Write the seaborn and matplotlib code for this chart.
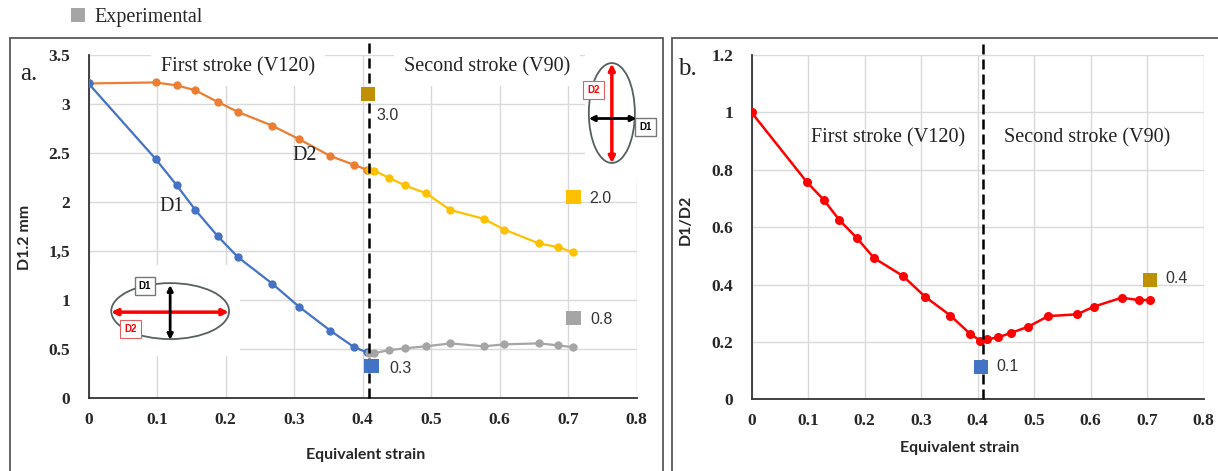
import matplotlib
matplotlib.use("Agg")
import matplotlib.pyplot as plt
from matplotlib.patches import Ellipse, Rectangle
from matplotlib.lines import Line2D
from matplotlib.ticker import MultipleLocator
import seaborn as sns

# ================== DATA ==================

strain_first = [0, 0.098, 0.129, 0.156, 0.189, 0.218, 0.268, 0.308, 0.353, 0.388, 0.406]
d2_first = [3.21, 3.22, 3.19, 3.14, 3.02, 2.92, 2.78, 2.64, 2.47, 2.38, 2.33]
d1_first = [3.21, 2.44, 2.17, 1.92, 1.65, 1.44, 1.17, 0.93, 0.69, 0.52, 0.47]

strain_second = [0.410, 0.417, 0.438, 0.462, 0.493, 0.528, 0.577, 0.607, 0.657, 0.686, 0.707]
d2_second = [2.33, 2.32, 2.25, 2.17, 2.09, 1.92, 1.83, 1.72, 1.58, 1.54, 1.49]
d1_second = [0.46, 0.46, 0.49, 0.51, 0.53, 0.56, 0.53, 0.55, 0.56, 0.54, 0.52]

strain_ratio = [0, 0.098, 0.128, 0.155, 0.187, 0.217, 0.268, 0.307, 0.352, 0.387, 0.405,
                0.416, 0.437, 0.460, 0.490, 0.525, 0.576, 0.606, 0.655, 0.685, 0.705]
ratio = [1.0, 0.757, 0.695, 0.626, 0.561, 0.492, 0.430, 0.358, 0.292, 0.228, 0.204,
         0.209, 0.216, 0.232, 0.253, 0.290, 0.296, 0.323, 0.354, 0.346, 0.346]

exp_a_strain = [0.408, 0.708, 0.708, 0.413]
exp_a_value = [3.10, 2.05, 0.82, 0.33]
exp_a_label = ["3.0", "2.0", "0.8", "0.3"]

exp_b_strain = [0.705, 0.406]
exp_b_value = [0.415, 0.113]
exp_b_label = ["0.4", "0.1"]

stroke_split = 0.41

x_ticks = [0, 0.1, 0.2, 0.3, 0.4, 0.5, 0.6, 0.7, 0.8]
x_ticklabels = ["0", "0.1", "0.2", "0.3", "0.4", "0.5", "0.6", "0.7", "0.8"]
ya_ticks = [0, 0.5, 1, 1.5, 2, 2.5, 3, 3.5]
ya_ticklabels = ["0", "0.5", "1", "1,5", "2", "2.5", "3", "3.5"]
yb_ticks = [0, 0.2, 0.4, 0.6, 0.8, 1.0, 1.2]
yb_ticklabels = ["0", "0.2", "0.4", "0.6", "0.8", "1", "1.2"]

# ================== STYLE ==================

ORANGE = "#ED7D31"
BLUE = "#4472C4"
YELLOW = "#FFC000"
GREY = "#A5A5A5"
GOLD = "#BF9000"
RED = "#FF0000"
exp_a_colors = [GOLD, YELLOW, GREY, BLUE]
exp_b_colors = [GOLD, BLUE]
exp_a_offsets = [(6, -15), (11.5, -1), (12, -1.5), (13, -1.5)]
exp_b_offsets = [(11.5, 1.5), (11, 0)]

SERIF = "Liberation Serif"
SANS = "Liberation Sans"
LABEL_FONT = "Lato"

sns.set_style("white")
plt.rcParams["font.family"] = [SERIF, "DejaVu Sans"]

W, H = 1218, 471
fig = plt.figure(figsize=(W / 100, H / 100), dpi=100)

# panel frames
fig.add_artist(Rectangle((10 / W, -0.02), 653 / W, 1.02 - 38 / H,
                         transform=fig.transFigure, fill=False, ec="#595959", lw=1.3))
fig.add_artist(Rectangle((672 / W, -0.02), 560 / W, 1.02 - 38 / H,
                         transform=fig.transFigure, fill=False, ec="#595959", lw=1.3))

ax_a = fig.add_axes([88.5 / W, 1 - 398.3 / H, 548 / W, 343.3 / H])
ax_b = fig.add_axes([751.5 / W, 1 - 399.3 / H, 452 / W, 344.3 / H])


def style_axes(ax, ymax, yminor, yticks, yticklabels):
    ax.set_xlim(0, 0.8)
    ax.set_ylim(0, ymax)
    ax.set_axisbelow(True)
    ax.grid(True, which="major", color="#D9D9D9", lw=1)
    ax.set_xticks(x_ticks)
    ax.set_xticklabels(x_ticklabels, fontweight="bold", fontsize=12.5, family=SERIF)
    ax.set_yticks(yticks)
    ax.set_yticklabels(yticklabels, fontweight="bold", fontsize=12.5, family=SERIF)
    ax.xaxis.set_minor_locator(MultipleLocator(0.02))
    ax.yaxis.set_minor_locator(MultipleLocator(yminor))
    ax.tick_params(which="both", direction="in", length=4, width=1, color="#333333")
    ax.tick_params(axis="x", which="major", pad=10)
    ax.tick_params(axis="y", which="major", pad=13)
    for side in ["top", "right"]:
        ax.spines[side].set_visible(False)
    for side in ["left", "bottom"]:
        ax.spines[side].set_color("#333333")
        ax.spines[side].set_linewidth(1.3)
    ax.set_xlabel("Equivalent strain", family=LABEL_FONT, fontweight="bold", fontsize=11.5)


# ================== PANEL A ==================

style_axes(ax_a, 3.5, 0.1, ya_ticks, ya_ticklabels)
ax_a.set_ylabel("D1.2 mm", family=LABEL_FONT, fontweight="bold", fontsize=11.5)
ax_a.yaxis.set_label_coords(-0.103, 0.47)
ax_a.xaxis.set_label_coords(0.506, -0.145)

line_kw = dict(marker="o", markersize=6, markeredgewidth=0, lw=1.6)
sns.lineplot(x=strain_first, y=d2_first, ax=ax_a, color=ORANGE, zorder=3, **line_kw)
sns.lineplot(x=strain_first, y=d1_first, ax=ax_a, color=BLUE, zorder=3, **line_kw)
sns.lineplot(x=strain_second, y=d2_second, ax=ax_a, color=YELLOW, zorder=3, **line_kw)
sns.lineplot(x=strain_second, y=d1_second, ax=ax_a, color=GREY, zorder=3, **line_kw)

ax_a.plot([stroke_split, stroke_split], [0, 3.66], ls=(0, (4, 2)), color="k", lw=1.8,
          clip_on=False, zorder=4)

for xs, ys, c, lab, off in zip(exp_a_strain, exp_a_value, exp_a_colors, exp_a_label, exp_a_offsets):
    sns.scatterplot(x=[xs], y=[ys], ax=ax_a, marker="s", s=105, color=c, edgecolor="none",
                    zorder=5)
    ax_a.annotate(lab, (xs, ys), xytext=off, textcoords="offset points", ha="left",
                  va="center", family=SANS, fontsize=11.5, color="#333333")

ax_a.text(0.218, 3.38, "First stroke (V120)", ha="center", va="center", fontsize=14.5,
          color="#222222", bbox=dict(fc="white", ec="none", pad=7), zorder=2)
ax_a.text(0.582, 3.38, "Second stroke (V90)", ha="center", va="center", fontsize=14.5,
          color="#222222", bbox=dict(fc="white", ec="none", pad=7), zorder=2)
ax_a.text(0.316, 2.48, "D2", ha="center", va="center", fontsize=14.5, color="#222222")
ax_a.text(0.122, 1.96, "D1", ha="center", va="center", fontsize=14.5, color="#222222")
ax_a.text(-0.125, 0.945, "a.", transform=ax_a.transAxes, ha="left", va="center",
          fontsize=18, color="#222222")

# schematic: flattened ellipse (lower left)
ax_a.add_patch(Rectangle((0.0, 0.123), 0.277, 0.265, transform=ax_a.transAxes,
                         fc="white", ec="none", zorder=1))
ax_a.add_patch(Ellipse((0.149, 0.254), 0.215, 0.163, transform=ax_a.transAxes,
                       fc="white", ec="#556060", lw=1.3, zorder=2))
ax_a.annotate("", xy=(0.256, 0.251), xytext=(0.041, 0.251), xycoords="axes fraction",
              arrowprops=dict(arrowstyle="<|-|>", color=RED, lw=2.5, mutation_scale=9,
                              shrinkA=0, shrinkB=0), zorder=3)
ax_a.annotate("", xy=(0.149, 0.33), xytext=(0.149, 0.17), xycoords="axes fraction",
              arrowprops=dict(arrowstyle="<|-|>", color="black", lw=2, mutation_scale=8,
                              shrinkA=0, shrinkB=0), zorder=3)
ax_a.text(0.103, 0.327, "D1", transform=ax_a.transAxes, ha="center", va="center",
          family=SANS, fontweight="bold", fontsize=7, color="black", zorder=4,
          bbox=dict(fc="white", ec="#777777", lw=1, pad=3))
ax_a.text(0.076, 0.202, "D2", transform=ax_a.transAxes, ha="center", va="center",
          family=SANS, fontweight="bold", fontsize=7, color=RED, zorder=4,
          bbox=dict(fc="white", ec="#E06060", lw=0.8, pad=3))

# schematic: elongated ellipse (upper right)
ax_a.add_patch(Rectangle((0.906, 0.641), 0.144, 0.359, transform=ax_a.transAxes,
                         fc="white", ec="none", zorder=1, clip_on=False))
ax_a.add_patch(Ellipse((0.955, 0.831), 0.084, 0.291, transform=ax_a.transAxes,
                       fc="white", ec="#556060", lw=1.3, zorder=2, clip_on=False))
ax_a.annotate("", xy=(0.955, 0.975), xytext=(0.955, 0.685), xycoords="axes fraction",
              arrowprops=dict(arrowstyle="<|-|>", color=RED, lw=2.5, mutation_scale=9,
                              shrinkA=0, shrinkB=0), zorder=3)
ax_a.annotate("", xy=(1.0, 0.815), xytext=(0.913, 0.815), xycoords="axes fraction",
              arrowprops=dict(arrowstyle="<|-|>", color="black", lw=2, mutation_scale=8,
                              shrinkA=0, shrinkB=0), zorder=3)
ax_a.text(0.921, 0.898, "D2", transform=ax_a.transAxes, ha="center", va="center",
          family=SANS, fontweight="bold", fontsize=7, color=RED, zorder=4,
          bbox=dict(fc="white", ec="#E06060", lw=0.8, pad=3))
ax_a.text(1.016, 0.79, "D1", transform=ax_a.transAxes, ha="center", va="center",
          family=SANS, fontweight="bold", fontsize=7, color="black", zorder=4,
          bbox=dict(fc="white", ec="#777777", lw=1, pad=3))

# ================== PANEL B ==================

style_axes(ax_b, 1.2, 0.04, yb_ticks, yb_ticklabels)
ax_b.set_ylabel("D1/D2", family=LABEL_FONT, fontweight="bold", fontsize=11.5)
ax_b.yaxis.set_label_coords(-0.13, 0.52)
ax_b.xaxis.set_label_coords(0.461, -0.12)

sns.lineplot(x=strain_ratio, y=ratio, ax=ax_b, color=RED, zorder=3,
             marker="o", markersize=6.5, markeredgewidth=0, lw=1.8)
ax_b.plot([stroke_split, stroke_split], [0, 1.253], ls=(0, (4, 2)), color="k", lw=1.8,
          clip_on=False, zorder=4)

for xs, ys, c, lab, off in zip(exp_b_strain, exp_b_value, exp_b_colors, exp_b_label, exp_b_offsets):
    sns.scatterplot(x=[xs], y=[ys], ax=ax_b, marker="s", s=105, color=c, edgecolor="none",
                    zorder=5)
    ax_b.annotate(lab, (xs, ys), xytext=off, textcoords="offset points", ha="left",
                  va="center", family=SANS, fontsize=11.5, color="#333333")

ax_b.text(0.242, 0.911, "First stroke (V120)", ha="center", va="center", fontsize=14.5,
          color="#222222")
ax_b.text(0.594, 0.911, "Second stroke (V90)", ha="center", va="center", fontsize=14.5,
          color="#222222")
ax_b.text(-0.163, 0.96, "b.", transform=ax_b.transAxes, ha="left", va="center",
          fontsize=18, color="#222222")

# ================== LEGEND ==================

handle = Line2D([], [], marker="s", ls="", color=GREY, markersize=10, markeredgewidth=0)
fig.legend([handle], ["Experimental"], loc="center left", frameon=False,
           bbox_to_anchor=(62 / W, 1 - 17 / H), handlelength=0.8, handletextpad=0.4,
           borderaxespad=0, prop=dict(family=SERIF, size=14.5))

fig.savefig("out.png", dpi=100)
